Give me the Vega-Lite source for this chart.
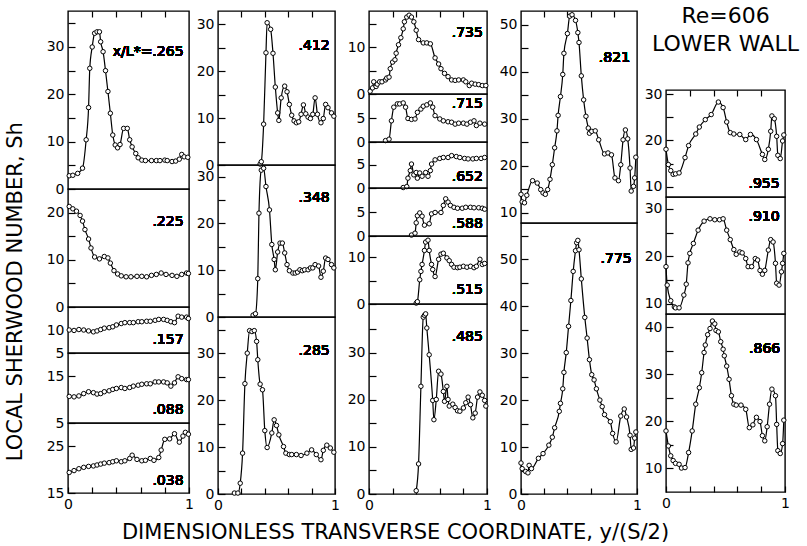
{
"$schema":"https://vega.github.io/schema/vega-lite/v6.json",
"background":"white",
"padding":{"left":5,"top":4,"right":0,"bottom":5},
"spacing":0,
"title":{"text":"DIMENSIONLESS  TRANSVERSE  COORDINATE,  y/(S/2)","orient":"bottom","anchor":"middle","fontSize":21,"font":"DejaVu Sans","fontWeight":"normal","color":"black","offset":9,"dx":-7},
"datasets":{
"p265":[{"x":0.01,"y":2.8},{"x":0.04,"y":2.9},{"x":0.08,"y":3.3},{"x":0.12,"y":4.4},{"x":0.15,"y":10.4},{"x":0.17,"y":17.2},{"x":0.18,"y":25.5},{"x":0.2,"y":30},{"x":0.22,"y":32.9},{"x":0.24,"y":33.2},{"x":0.26,"y":33.2},{"x":0.27,"y":31.1},{"x":0.29,"y":29},{"x":0.31,"y":25},{"x":0.33,"y":20.6},{"x":0.35,"y":16},{"x":0.37,"y":11.4},{"x":0.39,"y":9.3},{"x":0.41,"y":8.7},{"x":0.43,"y":9.4},{"x":0.46,"y":12.8},{"x":0.49,"y":12.8},{"x":0.51,"y":10.4},{"x":0.53,"y":8.9},{"x":0.56,"y":7.5},{"x":0.58,"y":6.6},{"x":0.61,"y":6.1},{"x":0.64,"y":6.0},{"x":0.69,"y":6.0},{"x":0.73,"y":6.0},{"x":0.76,"y":6.0},{"x":0.8,"y":6.1},{"x":0.82,"y":6.0},{"x":0.86,"y":5.8},{"x":0.89,"y":5.9},{"x":0.92,"y":6.3},{"x":0.94,"y":7.3},{"x":0.96,"y":6.8},{"x":0.99,"y":6.7}],
"p225":[{"x":0.01,"y":21.3},{"x":0.04,"y":20.8},{"x":0.07,"y":20.3},{"x":0.1,"y":19.4},{"x":0.12,"y":18.2},{"x":0.14,"y":16.4},{"x":0.17,"y":14.4},{"x":0.19,"y":12.5},{"x":0.22,"y":10.6},{"x":0.26,"y":10.2},{"x":0.3,"y":10.7},{"x":0.33,"y":10.4},{"x":0.35,"y":9.3},{"x":0.38,"y":7.7},{"x":0.41,"y":7.0},{"x":0.44,"y":6.6},{"x":0.48,"y":6.4},{"x":0.52,"y":6.4},{"x":0.57,"y":6.5},{"x":0.61,"y":6.5},{"x":0.65,"y":6.4},{"x":0.69,"y":6.7},{"x":0.73,"y":6.9},{"x":0.77,"y":7.2},{"x":0.81,"y":6.9},{"x":0.86,"y":6.7},{"x":0.9,"y":6.5},{"x":0.94,"y":6.9},{"x":0.98,"y":7.2},{"x":0.995,"y":7.1}],
"p157":[{"x":0.01,"y":10.0},{"x":0.05,"y":9.9},{"x":0.09,"y":10.1},{"x":0.13,"y":10.0},{"x":0.17,"y":9.8},{"x":0.21,"y":9.6},{"x":0.24,"y":9.8},{"x":0.27,"y":10.1},{"x":0.3,"y":10.4},{"x":0.34,"y":10.5},{"x":0.37,"y":10.7},{"x":0.4,"y":11.1},{"x":0.44,"y":11.4},{"x":0.47,"y":11.6},{"x":0.51,"y":11.6},{"x":0.54,"y":11.6},{"x":0.58,"y":11.8},{"x":0.61,"y":11.8},{"x":0.65,"y":11.9},{"x":0.68,"y":11.9},{"x":0.72,"y":12.1},{"x":0.75,"y":12.3},{"x":0.79,"y":12.3},{"x":0.82,"y":12.1},{"x":0.85,"y":11.8},{"x":0.88,"y":11.6},{"x":0.91,"y":13.0},{"x":0.94,"y":12.8},{"x":0.98,"y":12.8},{"x":0.995,"y":12.5}],
"p088":[{"x":0.01,"y":10.7},{"x":0.05,"y":10.6},{"x":0.09,"y":10.8},{"x":0.13,"y":11.3},{"x":0.17,"y":11.7},{"x":0.21,"y":11.5},{"x":0.24,"y":11.2},{"x":0.27,"y":11.3},{"x":0.3,"y":11.7},{"x":0.34,"y":11.9},{"x":0.37,"y":12.2},{"x":0.4,"y":12.4},{"x":0.44,"y":12.6},{"x":0.47,"y":12.4},{"x":0.51,"y":12.6},{"x":0.54,"y":12.9},{"x":0.58,"y":13.1},{"x":0.61,"y":13.3},{"x":0.65,"y":13.4},{"x":0.68,"y":13.4},{"x":0.72,"y":13.8},{"x":0.75,"y":13.8},{"x":0.79,"y":13.8},{"x":0.82,"y":13.6},{"x":0.85,"y":12.9},{"x":0.88,"y":13.6},{"x":0.91,"y":14.9},{"x":0.94,"y":14.5},{"x":0.98,"y":14.3},{"x":0.995,"y":14.3}],
"p038":[{"x":0.01,"y":19.4},{"x":0.05,"y":19.8},{"x":0.09,"y":20.2},{"x":0.13,"y":20.5},{"x":0.17,"y":20.7},{"x":0.21,"y":20.8},{"x":0.24,"y":21.0},{"x":0.27,"y":21.2},{"x":0.3,"y":21.4},{"x":0.34,"y":21.5},{"x":0.37,"y":21.7},{"x":0.4,"y":21.9},{"x":0.44,"y":21.7},{"x":0.47,"y":21.9},{"x":0.51,"y":22.4},{"x":0.53,"y":23.1},{"x":0.57,"y":22.2},{"x":0.61,"y":21.9},{"x":0.64,"y":22.0},{"x":0.68,"y":22.4},{"x":0.71,"y":22.0},{"x":0.75,"y":22.6},{"x":0.77,"y":24.2},{"x":0.8,"y":26.5},{"x":0.84,"y":26.6},{"x":0.88,"y":27.7},{"x":0.92,"y":25.9},{"x":0.95,"y":27.2},{"x":0.97,"y":28.0},{"x":0.995,"y":27.6}],
"p412":[{"x":0.36,"y":0.2},{"x":0.37,"y":0.7},{"x":0.39,"y":8.7},{"x":0.41,"y":23.9},{"x":0.42,"y":30.3},{"x":0.45,"y":28.9},{"x":0.47,"y":23.8},{"x":0.49,"y":16.6},{"x":0.51,"y":11.1},{"x":0.52,"y":9.5},{"x":0.54,"y":14.3},{"x":0.57,"y":16.8},{"x":0.59,"y":15.6},{"x":0.61,"y":12.9},{"x":0.63,"y":10.6},{"x":0.65,"y":9.4},{"x":0.67,"y":9.0},{"x":0.69,"y":9.2},{"x":0.71,"y":10.8},{"x":0.73,"y":12.8},{"x":0.75,"y":10.9},{"x":0.77,"y":10.2},{"x":0.79,"y":9.9},{"x":0.81,"y":10.8},{"x":0.83,"y":14.3},{"x":0.85,"y":10.8},{"x":0.88,"y":9.0},{"x":0.9,"y":9.9},{"x":0.92,"y":12.9},{"x":0.94,"y":12.2},{"x":0.97,"y":11.1},{"x":0.99,"y":10.4}],
"p348":[{"x":0.3,"y":0.4},{"x":0.32,"y":0.7},{"x":0.34,"y":8.2},{"x":0.35,"y":22.2},{"x":0.37,"y":31.4},{"x":0.39,"y":31.8},{"x":0.41,"y":27.9},{"x":0.44,"y":22.9},{"x":0.46,"y":15.5},{"x":0.48,"y":12.3},{"x":0.49,"y":10.1},{"x":0.51,"y":13.9},{"x":0.53,"y":15.8},{"x":0.55,"y":15.8},{"x":0.57,"y":13.7},{"x":0.59,"y":11.2},{"x":0.61,"y":9.9},{"x":0.64,"y":9.4},{"x":0.66,"y":9.4},{"x":0.68,"y":9.6},{"x":0.7,"y":10.1},{"x":0.72,"y":9.9},{"x":0.74,"y":10.1},{"x":0.77,"y":10.1},{"x":0.79,"y":10.5},{"x":0.81,"y":10.5},{"x":0.83,"y":11.2},{"x":0.86,"y":10.9},{"x":0.88,"y":8.5},{"x":0.9,"y":9.8},{"x":0.92,"y":12.6},{"x":0.94,"y":12.3},{"x":0.97,"y":11.2},{"x":0.99,"y":10.5}],
"p285":[{"x":0.14,"y":0.2},{"x":0.17,"y":0.2},{"x":0.19,"y":2.3},{"x":0.21,"y":8.7},{"x":0.23,"y":23.5},{"x":0.25,"y":30.0},{"x":0.27,"y":34.8},{"x":0.29,"y":34.6},{"x":0.31,"y":34.8},{"x":0.33,"y":32.5},{"x":0.34,"y":28.6},{"x":0.36,"y":23.4},{"x":0.38,"y":22.2},{"x":0.4,"y":13.5},{"x":0.42,"y":9.9},{"x":0.46,"y":13.0},{"x":0.48,"y":15.8},{"x":0.5,"y":14.6},{"x":0.52,"y":12.6},{"x":0.56,"y":10.1},{"x":0.58,"y":8.7},{"x":0.61,"y":8.4},{"x":0.63,"y":8.4},{"x":0.67,"y":8.4},{"x":0.71,"y":8.2},{"x":0.76,"y":8.7},{"x":0.8,"y":9.4},{"x":0.84,"y":8.4},{"x":0.88,"y":7.3},{"x":0.9,"y":9.3},{"x":0.93,"y":10.4},{"x":0.96,"y":9.8},{"x":0.99,"y":8.9}],
"p735":[{"x":0.01,"y":0.6},{"x":0.03,"y":1.3},{"x":0.04,"y":2.6},{"x":0.06,"y":1.6},{"x":0.07,"y":2.1},{"x":0.09,"y":2.6},{"x":0.11,"y":2.6},{"x":0.14,"y":3.0},{"x":0.15,"y":3.4},{"x":0.17,"y":3.6},{"x":0.18,"y":5.4},{"x":0.2,"y":6.8},{"x":0.22,"y":7.3},{"x":0.23,"y":8.7},{"x":0.25,"y":10.5},{"x":0.27,"y":12.0},{"x":0.29,"y":13.9},{"x":0.3,"y":15.4},{"x":0.32,"y":16.4},{"x":0.34,"y":16.8},{"x":0.36,"y":16.4},{"x":0.38,"y":15.4},{"x":0.4,"y":13.6},{"x":0.42,"y":11.6},{"x":0.46,"y":10.9},{"x":0.49,"y":10.9},{"x":0.52,"y":10.7},{"x":0.56,"y":7.7},{"x":0.59,"y":6.4},{"x":0.61,"y":5.4},{"x":0.64,"y":4.4},{"x":0.67,"y":3.7},{"x":0.7,"y":3.0},{"x":0.73,"y":2.9},{"x":0.76,"y":3.0},{"x":0.8,"y":3.0},{"x":0.82,"y":2.6},{"x":0.85,"y":1.8},{"x":0.87,"y":2.3},{"x":0.9,"y":2.1},{"x":0.93,"y":2.0},{"x":0.96,"y":1.8},{"x":0.99,"y":1.8}],
"p715":[{"x":0.14,"y":0.3},{"x":0.17,"y":0.6},{"x":0.19,"y":4.5},{"x":0.21,"y":7.4},{"x":0.24,"y":8.1},{"x":0.26,"y":8.1},{"x":0.29,"y":8.3},{"x":0.31,"y":7.4},{"x":0.33,"y":5.0},{"x":0.36,"y":4.8},{"x":0.39,"y":4.9},{"x":0.41,"y":6.3},{"x":0.44,"y":7.0},{"x":0.46,"y":7.6},{"x":0.49,"y":7.9},{"x":0.52,"y":8.3},{"x":0.54,"y":7.4},{"x":0.56,"y":5.6},{"x":0.6,"y":4.9},{"x":0.63,"y":4.5},{"x":0.67,"y":4.3},{"x":0.7,"y":4.2},{"x":0.73,"y":3.8},{"x":0.76,"y":4.0},{"x":0.8,"y":4.0},{"x":0.83,"y":3.8},{"x":0.86,"y":4.2},{"x":0.89,"y":4.5},{"x":0.91,"y":3.5},{"x":0.94,"y":4.0},{"x":0.98,"y":3.8}],
"p652":[{"x":0.29,"y":0.1},{"x":0.32,"y":0.3},{"x":0.33,"y":2.1},{"x":0.35,"y":3.7},{"x":0.36,"y":5.1},{"x":0.38,"y":2.8},{"x":0.4,"y":3.3},{"x":0.41,"y":2.1},{"x":0.43,"y":3.2},{"x":0.45,"y":2.5},{"x":0.48,"y":3.3},{"x":0.5,"y":2.5},{"x":0.52,"y":3.7},{"x":0.53,"y":5.1},{"x":0.56,"y":6.0},{"x":0.6,"y":6.3},{"x":0.63,"y":6.5},{"x":0.67,"y":6.5},{"x":0.7,"y":6.9},{"x":0.74,"y":6.7},{"x":0.77,"y":6.5},{"x":0.81,"y":6.3},{"x":0.84,"y":6.2},{"x":0.88,"y":6.2},{"x":0.91,"y":6.3},{"x":0.95,"y":6.3},{"x":0.98,"y":6.5}],
"p588":[{"x":0.36,"y":0.2},{"x":0.39,"y":0.6},{"x":0.4,"y":2.8},{"x":0.41,"y":4.3},{"x":0.43,"y":4.9},{"x":0.45,"y":4.2},{"x":0.47,"y":2.3},{"x":0.51,"y":2.6},{"x":0.53,"y":4.7},{"x":0.56,"y":5.0},{"x":0.61,"y":5.0},{"x":0.63,"y":6.5},{"x":0.65,"y":7.9},{"x":0.67,"y":7.2},{"x":0.69,"y":6.5},{"x":0.72,"y":6.1},{"x":0.75,"y":5.9},{"x":0.79,"y":5.9},{"x":0.82,"y":6.1},{"x":0.86,"y":6.1},{"x":0.89,"y":6.0},{"x":0.93,"y":6.0},{"x":0.96,"y":5.9},{"x":0.98,"y":5.7}],
"p515":[{"x":0.4,"y":0.2},{"x":0.41,"y":0.5},{"x":0.43,"y":5.2},{"x":0.44,"y":7.0},{"x":0.45,"y":8.5},{"x":0.47,"y":11.5},{"x":0.48,"y":13.3},{"x":0.5,"y":13.7},{"x":0.51,"y":11.5},{"x":0.53,"y":8.5},{"x":0.54,"y":7.4},{"x":0.56,"y":5.9},{"x":0.59,"y":9.6},{"x":0.61,"y":10.7},{"x":0.63,"y":10.9},{"x":0.66,"y":9.9},{"x":0.68,"y":9.3},{"x":0.7,"y":8.5},{"x":0.72,"y":7.9},{"x":0.75,"y":7.8},{"x":0.77,"y":7.9},{"x":0.8,"y":8.1},{"x":0.83,"y":7.9},{"x":0.86,"y":8.1},{"x":0.89,"y":7.8},{"x":0.91,"y":8.1},{"x":0.94,"y":9.6},{"x":0.96,"y":8.5},{"x":0.98,"y":8.7}],
"p485":[{"x":0.4,"y":0.7},{"x":0.42,"y":6.4},{"x":0.44,"y":22.9},{"x":0.46,"y":37.6},{"x":0.47,"y":38.0},{"x":0.48,"y":38.3},{"x":0.49,"y":35.3},{"x":0.51,"y":29.6},{"x":0.54,"y":19.9},{"x":0.55,"y":15.8},{"x":0.57,"y":20.1},{"x":0.59,"y":26.1},{"x":0.61,"y":25.5},{"x":0.63,"y":21.8},{"x":0.64,"y":19.7},{"x":0.66,"y":22.9},{"x":0.67,"y":20.1},{"x":0.68,"y":18.7},{"x":0.71,"y":19.1},{"x":0.73,"y":18.4},{"x":0.75,"y":17.7},{"x":0.77,"y":17.6},{"x":0.8,"y":18.3},{"x":0.82,"y":19.4},{"x":0.84,"y":20.6},{"x":0.86,"y":19.0},{"x":0.88,"y":16.2},{"x":0.9,"y":17.2},{"x":0.92,"y":20.6},{"x":0.94,"y":21.7},{"x":0.96,"y":21.0},{"x":0.98,"y":19.9},{"x":0.99,"y":18.7}],
"p821":[{"x":0.0,"y":13.9},{"x":0.01,"y":12.3},{"x":0.03,"y":12.1},{"x":0.05,"y":13.7},{"x":0.1,"y":16.8},{"x":0.14,"y":16.3},{"x":0.17,"y":14.9},{"x":0.19,"y":14.2},{"x":0.21,"y":13.9},{"x":0.23,"y":14.9},{"x":0.25,"y":17.1},{"x":0.27,"y":20.2},{"x":0.29,"y":23.8},{"x":0.31,"y":27.4},{"x":0.32,"y":30.7},{"x":0.34,"y":34.7},{"x":0.36,"y":39.4},{"x":0.37,"y":43.9},{"x":0.4,"y":48.1},{"x":0.42,"y":51.8},{"x":0.44,"y":52.1},{"x":0.47,"y":50.9},{"x":0.49,"y":48.3},{"x":0.5,"y":46.2},{"x":0.52,"y":39.1},{"x":0.54,"y":34.0},{"x":0.56,"y":30.5},{"x":0.58,"y":28.0},{"x":0.59,"y":26.9},{"x":0.61,"y":27.3},{"x":0.64,"y":27.4},{"x":0.67,"y":25.5},{"x":0.72,"y":22.5},{"x":0.75,"y":22.7},{"x":0.78,"y":22.3},{"x":0.81,"y":17.4},{"x":0.84,"y":16.8},{"x":0.86,"y":20.2},{"x":0.88,"y":25.5},{"x":0.9,"y":27.6},{"x":0.92,"y":25.7},{"x":0.94,"y":19.5},{"x":0.95,"y":14.6},{"x":0.97,"y":15.6},{"x":0.98,"y":17.4},{"x":0.99,"y":21.8}],
"p775":[{"x":0.0,"y":6.6},{"x":0.01,"y":5.4},{"x":0.04,"y":4.8},{"x":0.06,"y":4.5},{"x":0.07,"y":6.1},{"x":0.09,"y":5.4},{"x":0.15,"y":7.6},{"x":0.19,"y":8.6},{"x":0.24,"y":10.4},{"x":0.27,"y":12.1},{"x":0.29,"y":14.1},{"x":0.33,"y":17.6},{"x":0.34,"y":19.3},{"x":0.36,"y":22.4},{"x":0.37,"y":25.9},{"x":0.39,"y":30.1},{"x":0.41,"y":35.7},{"x":0.43,"y":41.2},{"x":0.45,"y":47.4},{"x":0.47,"y":51.8},{"x":0.48,"y":53.5},{"x":0.49,"y":54.0},{"x":0.5,"y":52.0},{"x":0.52,"y":45.8},{"x":0.55,"y":37.6},{"x":0.57,"y":33.2},{"x":0.59,"y":28.6},{"x":0.61,"y":25.4},{"x":0.63,"y":24.3},{"x":0.65,"y":22.4},{"x":0.68,"y":20.0},{"x":0.7,"y":18.6},{"x":0.72,"y":16.9},{"x":0.77,"y":15.4},{"x":0.79,"y":12.9},{"x":0.82,"y":11.1},{"x":0.86,"y":16.6},{"x":0.89,"y":18.1},{"x":0.91,"y":16.4},{"x":0.94,"y":12.5},{"x":0.95,"y":9.5},{"x":0.97,"y":9.8},{"x":0.98,"y":11.9},{"x":0.99,"y":13.2}],
"p955":[{"x":0.0,"y":18.1},{"x":0.02,"y":14.8},{"x":0.04,"y":13.5},{"x":0.06,"y":12.7},{"x":0.08,"y":12.8},{"x":0.11,"y":13.0},{"x":0.16,"y":16.3},{"x":0.19,"y":18.9},{"x":0.25,"y":21.4},{"x":0.28,"y":22.9},{"x":0.33,"y":24.5},{"x":0.38,"y":25.6},{"x":0.44,"y":28.3},{"x":0.48,"y":27.1},{"x":0.51,"y":24.0},{"x":0.54,"y":21.7},{"x":0.57,"y":21.4},{"x":0.62,"y":21.3},{"x":0.67,"y":20.2},{"x":0.71,"y":21.3},{"x":0.76,"y":20.2},{"x":0.81,"y":17.0},{"x":0.83,"y":15.9},{"x":0.86,"y":18.1},{"x":0.88,"y":22.0},{"x":0.89,"y":25.3},{"x":0.91,"y":24.7},{"x":0.93,"y":20.9},{"x":0.94,"y":16.8},{"x":0.96,"y":16.1},{"x":0.98,"y":19.9},{"x":0.99,"y":21.2}],
"p910":[{"x":0.0,"y":17.8},{"x":0.01,"y":13.9},{"x":0.04,"y":10.6},{"x":0.07,"y":9.3},{"x":0.08,"y":9.1},{"x":0.11,"y":9.1},{"x":0.15,"y":11.8},{"x":0.17,"y":14.1},{"x":0.185,"y":18.6},{"x":0.2,"y":20.6},{"x":0.23,"y":22.7},{"x":0.27,"y":25.5},{"x":0.32,"y":27.4},{"x":0.37,"y":27.9},{"x":0.41,"y":27.7},{"x":0.45,"y":27.7},{"x":0.48,"y":27.9},{"x":0.51,"y":25.5},{"x":0.54,"y":23.5},{"x":0.57,"y":21.4},{"x":0.59,"y":20.4},{"x":0.62,"y":20.9},{"x":0.64,"y":20.7},{"x":0.67,"y":19.5},{"x":0.69,"y":17.8},{"x":0.72,"y":17.8},{"x":0.75,"y":19.5},{"x":0.77,"y":19.2},{"x":0.79,"y":17.0},{"x":0.81,"y":16.2},{"x":0.83,"y":17.0},{"x":0.86,"y":21.3},{"x":0.88,"y":23.5},{"x":0.9,"y":23.0},{"x":0.92,"y":18.5},{"x":0.93,"y":14.3},{"x":0.95,"y":13.9},{"x":0.97,"y":16.7},{"x":0.98,"y":18.5},{"x":0.99,"y":20.6}],
"p866":[{"x":0.0,"y":17.9},{"x":0.02,"y":14.7},{"x":0.04,"y":12.6},{"x":0.06,"y":11.6},{"x":0.08,"y":11.0},{"x":0.11,"y":10.8},{"x":0.13,"y":10.0},{"x":0.16,"y":10.1},{"x":0.19,"y":13.3},{"x":0.22,"y":17.9},{"x":0.25,"y":23.6},{"x":0.28,"y":27.1},{"x":0.3,"y":30.3},{"x":0.32,"y":34.6},{"x":0.33,"y":36.2},{"x":0.35,"y":38.4},{"x":0.37,"y":39.7},{"x":0.39,"y":41.3},{"x":0.41,"y":40.7},{"x":0.42,"y":39.3},{"x":0.44,"y":39.0},{"x":0.46,"y":36.9},{"x":0.48,"y":35.3},{"x":0.49,"y":33.9},{"x":0.51,"y":31.7},{"x":0.53,"y":28.9},{"x":0.55,"y":25.4},{"x":0.57,"y":23.6},{"x":0.59,"y":23.4},{"x":0.63,"y":23.4},{"x":0.67,"y":22.5},{"x":0.7,"y":18.6},{"x":0.73,"y":19.2},{"x":0.76,"y":20.8},{"x":0.79,"y":19.9},{"x":0.81,"y":16.9},{"x":0.83,"y":15.8},{"x":0.85,"y":18.8},{"x":0.87,"y":23.6},{"x":0.89,"y":26.8},{"x":0.92,"y":25.4},{"x":0.93,"y":19.3},{"x":0.94,"y":13.7},{"x":0.96,"y":13.1},{"x":0.98,"y":15.2},{"x":0.99,"y":20.2}]
},
"hconcat":[
{"spacing":0,"bounds":"flush",
 "title":{"text":"LOCAL SHERWOOD NUMBER, Sh","orient":"left","anchor":"middle","fontSize":21,"font":"DejaVu Sans","fontWeight":"normal","color":"black","offset":19,"dx":-31},
 "vconcat":[
 {"width":121,"height":178,"data":{"name":"p265"},
  "encoding":{"x":{"field":"x","type":"quantitative","scale":{"domain":[0,1]},"axis":{"orient":"top","values":[0.2,0.4,0.6,0.8],"labels":false,"tickSize":-6,"title":null}},
   "y":{"field":"y","type":"quantitative","scale":{"domain":[0,37.6],"nice":false,"zero":false},"axis":{"values":[0,5,10,15,20,25,30,35],"labelExpr":"datum.value % 10 === 0 ? datum.label : ''","title":null}}},
  "layer":[{"mark":{"type":"line"}},{"mark":{"type":"point"}},
   {"mark":{"type":"text","text":"x/L*=.265"},"encoding":{"x":{"datum":0.955},"y":{"datum":29}}}]},
 {"width":121,"height":118,"data":{"name":"p225"},
  "encoding":{"x":{"field":"x","type":"quantitative","scale":{"domain":[0,1]},"axis":null},
   "y":{"field":"y","type":"quantitative","scale":{"domain":[0,25],"nice":false,"zero":false},"axis":{"values":[0,5,10,15,20],"labelExpr":"datum.value % 10 === 0 ? datum.label : ''","title":null}}},
  "layer":[{"mark":{"type":"line"}},{"mark":{"type":"point"}},
   {"mark":{"type":"text","text":".225"},"encoding":{"x":{"datum":0.955},"y":{"datum":18}}}]},
 {"width":121,"height":46,"data":{"name":"p157"},
  "encoding":{"x":{"field":"x","type":"quantitative","scale":{"domain":[0,1]},"axis":null},
   "y":{"field":"y","type":"quantitative","scale":{"domain":[5,15],"nice":false,"zero":false},"axis":{"values":[5,10],"title":null}}},
  "layer":[{"mark":{"type":"line"}},{"mark":{"type":"point"}},
   {"mark":{"type":"text","text":".157"},"encoding":{"x":{"datum":0.955},"y":{"datum":7.8}}}]},
 {"width":121,"height":70,"data":{"name":"p088"},
  "encoding":{"x":{"field":"x","type":"quantitative","scale":{"domain":[0,1]},"axis":null},
   "y":{"field":"y","type":"quantitative","scale":{"domain":[5,20],"nice":false,"zero":false},"axis":{"values":[5,15],"title":null}}},
  "layer":[{"mark":{"type":"line"}},{"mark":{"type":"point"}},
   {"mark":{"type":"text","text":".088"},"encoding":{"x":{"datum":0.955},"y":{"datum":7.8}}}]},
 {"width":121,"height":70,"data":{"name":"p038"},
  "encoding":{"x":{"field":"x","type":"quantitative","scale":{"domain":[0,1]},"axis":{"orient":"bottom","values":[0,0.2,0.4,0.6,0.8,1],"labelExpr":"datum.value === 0 ? '0' : (datum.value === 1 ? '1' : '')","tickSize":-6,"labelPadding":10,"title":null}},
   "y":{"field":"y","type":"quantitative","scale":{"domain":[15,30],"nice":false,"zero":false},"axis":{"values":[15,25],"title":null}}},
  "layer":[{"mark":{"type":"line"}},{"mark":{"type":"point"}},
   {"mark":{"type":"text","text":".038"},"encoding":{"x":{"datum":0.955},"y":{"datum":17.6}}}]}
]},
{"spacing":5,"hconcat":[
{"spacing":0,"bounds":"flush","vconcat":[
 {"width":117,"height":154,"data":{"name":"p412"},
  "encoding":{"x":{"field":"x","type":"quantitative","scale":{"domain":[0,1]},"axis":{"orient":"top","values":[0.2,0.4,0.6,0.8],"labels":false,"tickSize":-6,"title":null}},
   "y":{"field":"y","type":"quantitative","scale":{"domain":[0,32.8],"nice":false,"zero":false},"axis":{"values":[0,5,10,15,20,25,30],"labelExpr":"datum.value % 10 === 0 ? datum.label : ''","title":null}}},
  "layer":[{"mark":{"type":"line"}},{"mark":{"type":"point"}},
   {"mark":{"type":"text","text":".412"},"encoding":{"x":{"datum":0.955},"y":{"datum":25.3}}}]},
 {"width":117,"height":152,"data":{"name":"p348"},
  "encoding":{"x":{"field":"x","type":"quantitative","scale":{"domain":[0,1]},"axis":null},
   "y":{"field":"y","type":"quantitative","scale":{"domain":[0,32.5],"nice":false,"zero":false},"axis":{"values":[0,5,10,15,20,25,30],"labelExpr":"datum.value % 10 === 0 ? datum.label : ''","title":null}}},
  "layer":[{"mark":{"type":"line"}},{"mark":{"type":"point"}},
   {"mark":{"type":"text","text":".348"},"encoding":{"x":{"datum":0.955},"y":{"datum":25.5}}}]},
 {"width":117,"height":177,"data":{"name":"p285"},
  "encoding":{"x":{"field":"x","type":"quantitative","scale":{"domain":[0,1]},"axis":{"orient":"bottom","values":[0,0.2,0.4,0.6,0.8,1],"labelExpr":"datum.value === 0 ? '0' : (datum.value === 1 ? '1' : '')","tickSize":-6,"labelPadding":10,"title":null}},
   "y":{"field":"y","type":"quantitative","scale":{"domain":[0,37.7],"nice":false,"zero":false},"axis":{"values":[0,5,10,15,20,25,30,35],"labelExpr":"datum.value % 10 === 0 ? datum.label : ''","title":null}}},
  "layer":[{"mark":{"type":"line"}},{"mark":{"type":"point"}},
   {"mark":{"type":"text","text":".285"},"encoding":{"x":{"datum":0.955},"y":{"datum":30.4}}}]}
]},
{"spacing":0,"bounds":"flush","vconcat":[
 {"width":118,"height":83,"data":{"name":"p735"},
  "encoding":{"x":{"field":"x","type":"quantitative","scale":{"domain":[0,1]},"axis":{"orient":"top","values":[0.2,0.4,0.6,0.8],"labels":false,"tickSize":-6,"title":null}},
   "y":{"field":"y","type":"quantitative","scale":{"domain":[0,17.7],"nice":false,"zero":false},"axis":{"values":[0,5,10,15],"labelExpr":"datum.value % 10 === 0 ? datum.label : ''","title":null}}},
  "layer":[{"mark":{"type":"line"}},{"mark":{"type":"point"}},
   {"mark":{"type":"text","text":".735"},"encoding":{"x":{"datum":0.965},"y":{"datum":13}}}]},
 {"width":118,"height":48,"data":{"name":"p715"},
  "encoding":{"x":{"field":"x","type":"quantitative","scale":{"domain":[0,1]},"axis":null},
   "y":{"field":"y","type":"quantitative","scale":{"domain":[0,10.2],"nice":false,"zero":false},"axis":{"values":[0,5],"title":null}}},
  "layer":[{"mark":{"type":"line"}},{"mark":{"type":"point"}},
   {"mark":{"type":"text","text":".715"},"encoding":{"x":{"datum":0.965},"y":{"datum":8.1}}}]},
 {"width":118,"height":46,"data":{"name":"p652"},
  "encoding":{"x":{"field":"x","type":"quantitative","scale":{"domain":[0,1]},"axis":null},
   "y":{"field":"y","type":"quantitative","scale":{"domain":[0,9.8],"nice":false,"zero":false},"axis":{"values":[0,5],"title":null}}},
  "layer":[{"mark":{"type":"line"}},{"mark":{"type":"point"}},
   {"mark":{"type":"text","text":".652"},"encoding":{"x":{"datum":0.965},"y":{"datum":2.3}}}]},
 {"width":118,"height":48,"data":{"name":"p588"},
  "encoding":{"x":{"field":"x","type":"quantitative","scale":{"domain":[0,1]},"axis":null},
   "y":{"field":"y","type":"quantitative","scale":{"domain":[0,10.2],"nice":false,"zero":false},"axis":{"values":[0,5],"title":null}}},
  "layer":[{"mark":{"type":"line"}},{"mark":{"type":"point"}},
   {"mark":{"type":"text","text":".588"},"encoding":{"x":{"datum":0.965},"y":{"datum":2.6}}}]},
 {"width":118,"height":68,"data":{"name":"p515"},
  "encoding":{"x":{"field":"x","type":"quantitative","scale":{"domain":[0,1]},"axis":null},
   "y":{"field":"y","type":"quantitative","scale":{"domain":[0,14.6],"nice":false,"zero":false},"axis":{"values":[0,5,10],"labelExpr":"datum.value % 10 === 0 ? datum.label : ''","title":null}}},
  "layer":[{"mark":{"type":"line"}},{"mark":{"type":"point"}},
   {"mark":{"type":"text","text":".515"},"encoding":{"x":{"datum":0.965},"y":{"datum":3.0}}}]},
 {"width":118,"height":190,"data":{"name":"p485"},
  "encoding":{"x":{"field":"x","type":"quantitative","scale":{"domain":[0,1]},"axis":{"orient":"bottom","values":[0,0.2,0.4,0.6,0.8,1],"labelExpr":"datum.value === 0 ? '0' : (datum.value === 1 ? '1' : '')","tickSize":-6,"labelPadding":10,"title":null}},
   "y":{"field":"y","type":"quantitative","scale":{"domain":[0,40.4],"nice":false,"zero":false},"axis":{"values":[0,5,10,15,20,25,30,35],"labelExpr":"datum.value % 10 === 0 ? datum.label : ''","title":null}}},
  "layer":[{"mark":{"type":"line"}},{"mark":{"type":"point"}},
   {"mark":{"type":"text","text":".485"},"encoding":{"x":{"datum":0.965},"y":{"datum":33.4}}}]}
]},
{"spacing":0,"bounds":"flush","vconcat":[
 {"width":116,"height":212,"data":{"name":"p821"},
  "encoding":{"x":{"field":"x","type":"quantitative","scale":{"domain":[0,1]},"axis":{"orient":"top","values":[0.2,0.4,0.6,0.8],"labels":false,"tickSize":-6,"title":null}},
   "y":{"field":"y","type":"quantitative","scale":{"domain":[7.8,52.9],"nice":false,"zero":false},"axis":{"values":[10,15,20,25,30,35,40,45,50],"labelExpr":"datum.value % 10 === 0 ? datum.label : ''","title":null}}},
  "layer":[{"mark":{"type":"line"}},{"mark":{"type":"point"}},
   {"mark":{"type":"text","text":".821"},"encoding":{"x":{"datum":0.94},"y":{"datum":42.8}}}]},
 {"width":116,"height":271,"data":{"name":"p775"},
  "encoding":{"x":{"field":"x","type":"quantitative","scale":{"domain":[0,1]},"axis":{"orient":"bottom","values":[0,0.2,0.4,0.6,0.8,1],"labelExpr":"datum.value === 0 ? '0' : (datum.value === 1 ? '1' : '')","tickSize":-6,"labelPadding":10,"title":null}},
   "y":{"field":"y","type":"quantitative","scale":{"domain":[0,57.7],"nice":false,"zero":false},"axis":{"values":[0,5,10,15,20,25,30,35,40,45,50,55],"labelExpr":"datum.value % 10 === 0 ? datum.label : ''","title":null}}},
  "layer":[{"mark":{"type":"line"}},{"mark":{"type":"point"}},
   {"mark":{"type":"text","text":".775"},"encoding":{"x":{"datum":0.955},"y":{"datum":50}}}]}
]}
]},
{"spacing":0,"bounds":"flush","vconcat":[
 {"width":119,"height":79,"data":{"values":[{}]},"mark":{"type":"point","opacity":0},"view":{"stroke":null}},
 {"width":119,"height":107,"data":{"name":"p955"},
  "title":{"text":"Re=606","subtitle":"LOWER WALL","anchor":"middle","offset":31,"fontSize":22,"subtitleFontSize":22,"font":"DejaVu Sans","subtitleFont":"DejaVu Sans","fontWeight":"normal","color":"black","subtitleColor":"black","subtitlePadding":6},
  "encoding":{"x":{"field":"x","type":"quantitative","scale":{"domain":[0,1]},"axis":{"orient":"top","values":[0.2,0.4,0.6,0.8],"labels":false,"tickSize":-6,"title":null}},
   "y":{"field":"y","type":"quantitative","scale":{"domain":[7.8,30.9],"nice":false,"zero":false},"axis":{"values":[10,15,20,25,30],"labelExpr":"datum.value % 10 === 0 ? datum.label : ''","title":null}}},
  "layer":[{"mark":{"type":"line"}},{"mark":{"type":"point"}},
   {"mark":{"type":"text","text":".955"},"encoding":{"x":{"datum":0.955},"y":{"datum":10.6}}}]},
 {"width":119,"height":117,"data":{"name":"p910"},
  "encoding":{"x":{"field":"x","type":"quantitative","scale":{"domain":[0,1]},"axis":null},
   "y":{"field":"y","type":"quantitative","scale":{"domain":[7.8,32.5],"nice":false,"zero":false},"axis":{"values":[10,15,20,25,30],"labelExpr":"datum.value % 10 === 0 ? datum.label : ''","title":null}}},
  "layer":[{"mark":{"type":"line"}},{"mark":{"type":"point"}},
   {"mark":{"type":"text","text":".910"},"encoding":{"x":{"datum":0.955},"y":{"datum":28.3}}}]},
 {"width":119,"height":178,"data":{"name":"p866"},
  "encoding":{"x":{"field":"x","type":"quantitative","scale":{"domain":[0,1]},"axis":{"orient":"bottom","values":[0,0.2,0.4,0.6,0.8,1],"labelExpr":"datum.value === 0 ? '0' : (datum.value === 1 ? '1' : '')","tickSize":-6,"labelPadding":10,"title":null}},
   "y":{"field":"y","type":"quantitative","scale":{"domain":[4.9,42.8],"nice":false,"zero":false},"axis":{"values":[10,15,20,25,30,35,40],"labelExpr":"datum.value % 10 === 0 ? datum.label : ''","title":null}}},
  "layer":[{"mark":{"type":"line"}},{"mark":{"type":"point"}},
   {"mark":{"type":"text","text":".866"},"encoding":{"x":{"datum":0.96},"y":{"datum":35.3}}}]}
]}
],
"config":{
 "font":"DejaVu Sans",
 "view":{"stroke":"black","strokeWidth":1.4},
 "axis":{"domain":false,"grid":false,"ticks":true,"tickColor":"black","tickWidth":1.2,"tickSize":-7,"labelPadding":11,"labelColor":"black","labelFont":"DejaVu Sans","labelFontSize":14,"labelOverlap":false,"labelFlush":false,"titleColor":"black","titleFont":"DejaVu Sans","titleFontWeight":"normal"},
 "line":{"color":"black","strokeWidth":1.2,"interpolate":"monotone"},
 "point":{"shape":"circle","filled":true,"fill":"white","stroke":"black","strokeWidth":1,"size":20,"opacity":1},
 "text":{"font":"DejaVu Sans","fontSize":14,"align":"right","baseline":"middle","color":"black"}
}
}
